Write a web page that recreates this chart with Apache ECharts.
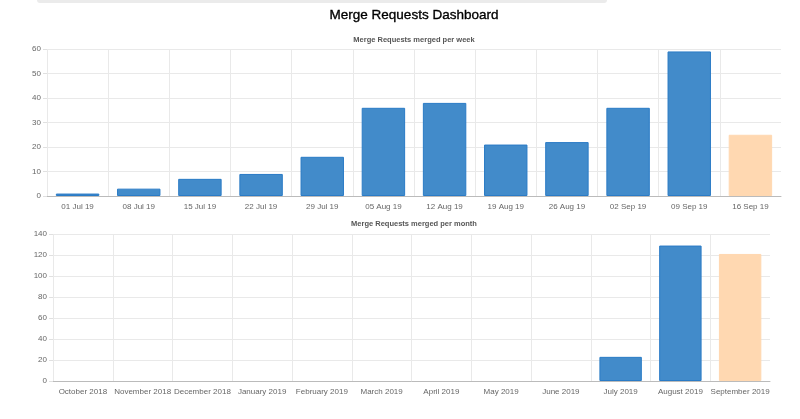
<!DOCTYPE html>
<html>
 <head>
  <meta charset="utf-8" />
  <title>Merge Requests Dashboard</title>
  <script type="text/javascript" src="https://cdn.jsdelivr.net/npm/echarts@6/dist/echarts.min.js"></script>
  <style type="text/css">
html, body {
	width: 100%;
	height: 100%;
	margin: 0;
	background: #fff;
}

#main {
	width: 800px;
	height: 419px;
}
</style>
 </head>
 <body>
	<div id="main"></div>

<script type="text/javascript">
var weekLabels = ['01 Jul 19', '08 Jul 19', '15 Jul 19', '22 Jul 19', '29 Jul 19', '05 Aug 19',
    '12 Aug 19', '19 Aug 19', '26 Aug 19', '02 Sep 19', '09 Sep 19', '16 Sep 19'];
var weekValues = [1, 3, 7, 9, 16, 36, 38, 21, 22, 36, 59, 25];

var monthLabels = ['October 2018', 'November 2018', 'December 2018', 'January 2019', 'February 2019',
    'March 2019', 'April 2019', 'May 2019', 'June 2019', 'July 2019', 'August 2019', 'September 2019'];
var monthValues = [0, 0, 0, 0, 0, 0, 0, 0, 0, 23, 129, 121];

var font = '"Liberation Sans", Arial, sans-serif';
var blue = '#428bca';
var blueBorder = '#2a7bc6';
var peach = '#ffd8b1';
var gridColor = '#e9e9e9';

// the last bar (current period) is peach, empty months get no outline
function barData(values) {
    return values.map(function (v, i) {
        if (i === values.length - 1) {
            return { value: v, itemStyle: { color: peach, borderColor: peach } };
        }
        if (v === 0) {
            return { value: v, itemStyle: { borderWidth: 0, opacity: 0 } };
        }
        return v;
    });
}

function xAxis(idx, labels) {
    return {
        type: 'category',
        gridIndex: idx,
        data: labels,
        axisLine: { lineStyle: { color: '#bbbbbb' } },
        axisTick: { length: 6, lineStyle: { color: '#e0e0e0' } },
        axisLabel: { color: '#666', fontSize: 8, fontFamily: font, margin: 7, interval: 0 },
        splitLine: {
            show: true,
            showMaxLine: false,
            lineStyle: { color: gridColor }
        }
    };
}

function yAxis(idx, max, interval) {
    return {
        type: 'value',
        gridIndex: idx,
        min: 0,
        max: max,
        interval: interval,
        axisLine: { show: false },
        axisTick: { show: true, length: 4, lineStyle: { color: '#e0e0e0' } },
        axisLabel: { color: '#666', fontSize: 8, fontFamily: font, margin: 6 },
        splitLine: { lineStyle: { color: gridColor } }
    };
}

var chart = echarts.init(document.getElementById('main'), null, { renderer: 'canvas' });

var option = {
    animation: false,
    textStyle: { fontFamily: font },
    title: [{
        text: 'Merge Requests Dashboard',
        left: 414,
        top: 8,
        padding: 0,
        textAlign: 'center',
        textStyle: {
            fontSize: 13.5, fontWeight: 'normal', color: '#000', fontFamily: font,
            textBorderColor: '#000', textBorderWidth: 0.35
        }
    }, {
        text: 'Merge Requests merged per week',
        left: 414,
        top: 36,
        padding: 0,
        textAlign: 'center',
        textStyle: { fontSize: 7.5, fontWeight: 'bold', color: '#555', fontFamily: font }
    }, {
        text: 'Merge Requests merged per month',
        left: 414,
        top: 220,
        padding: 0,
        textAlign: 'center',
        textStyle: { fontSize: 7.5, fontWeight: 'bold', color: '#555', fontFamily: font }
    }],
    graphic: [{
        type: 'rect',
        shape: { x: 37, y: -4, width: 570, height: 7, r: 3 },
        style: { fill: '#ebebeb' }
    }],
    grid: [
        { left: 47, right: 19, top: 49, height: 147 },
        { left: 53, right: 30, top: 234, height: 147 }
    ],
    xAxis: [xAxis(0, weekLabels), xAxis(1, monthLabels)],
    yAxis: [yAxis(0, 60, 10), yAxis(1, 140, 20)],
    series: [{
        name: 'per week',
        type: 'bar',
        xAxisIndex: 0,
        yAxisIndex: 0,
        barCategoryGap: '29%',
        itemStyle: { color: blue, borderColor: blueBorder, borderWidth: 1 },
        data: barData(weekValues)
    }, {
        name: 'per month',
        type: 'bar',
        xAxisIndex: 1,
        yAxisIndex: 1,
        barCategoryGap: '29%',
        itemStyle: { color: blue, borderColor: blueBorder, borderWidth: 1 },
        data: barData(monthValues)
    }]
};

chart.setOption(option);
</script>
 </body>
</html>
